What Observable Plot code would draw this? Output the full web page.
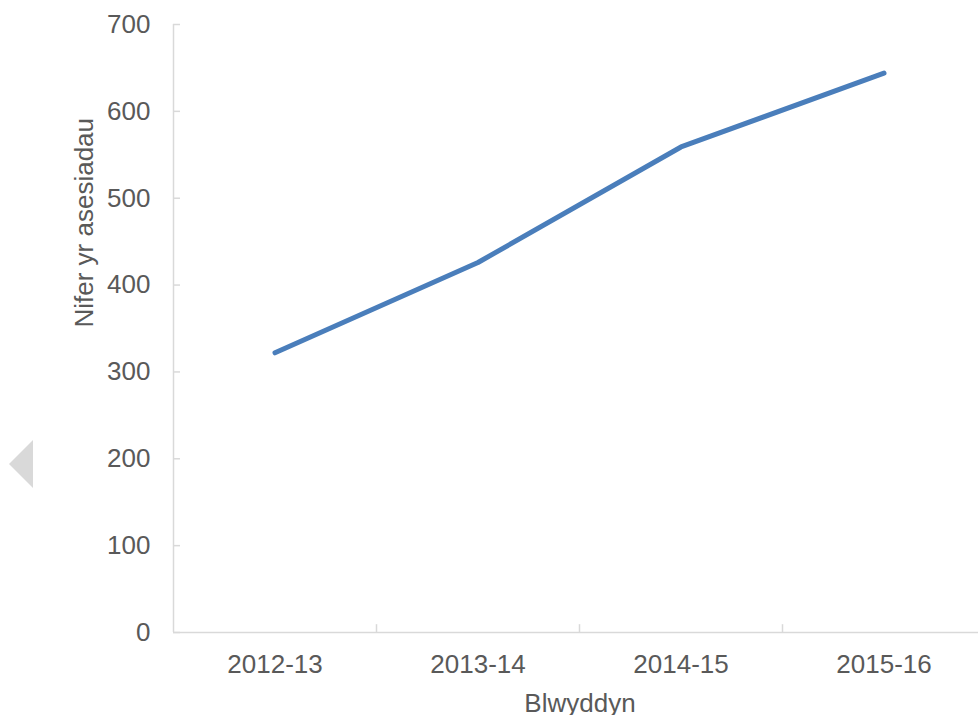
<!DOCTYPE html>
<html>
<head>
<meta charset="utf-8">
<script src="https://cdn.jsdelivr.net/npm/d3@7"></script>
<script src="https://cdn.jsdelivr.net/npm/@observablehq/plot@0.6"></script>
<style>
  html, body { margin: 0; padding: 0; background: #fff; }
  #wrap { position: relative; width: 978px; height: 715px; overflow: hidden; }
  #arrow { position: absolute; left: 9px; top: 440px; width: 0; height: 0;
           border-top: 24px solid transparent; border-bottom: 24px solid transparent;
           border-right: 24px solid #d9d9d9; }
  svg { display: block; }
</style>
</head>
<body>
<div id="wrap"><div id="chart"></div><div id="arrow"></div></div>
<script>
const years = ["2012-13", "2013-14", "2014-15", "2015-16"];
const assessments = [322, 426, 559, 644];
const yTicks = [0, 100, 200, 300, 400, 500, 600, 700];
const xTitle = "Blwyddyn";
const yTitle = "Nifer yr asesiadau";

const data = years.map((y, i) => ({year: y, value: assessments[i]}));

const W = 978, H = 715;
const mL = 173, mR = 0, mT = 24, mB = 83;
const xRange = [173, 985];
const step = (xRange[1] - xRange[0]) / years.length;
const axisColor = "#d9d9d9";
const textColor = "#595959";
const font = "'Liberation Sans', Arial, sans-serif";

const plot = Plot.plot({
  width: W,
  height: H,
  marginLeft: mL,
  marginRight: mR,
  marginTop: mT,
  marginBottom: mB,
  style: {fontFamily: font, fontSize: "26px", color: textColor, background: "#fff", overflow: "visible"},
  x: {type: "band", domain: years, range: xRange, padding: 0},
  y: {domain: [0, 700]},
  marks: [
    // axis lines
    Plot.ruleX([years[0]], {x: d => d, dx: -step / 2, y1: 0, y2: 700, stroke: axisColor, strokeWidth: 1.5}),
    Plot.ruleY([0], {stroke: axisColor, strokeWidth: 1.5}),
    // y ticks (inward)
    Plot.tickY(yTicks, {y: d => d, stroke: axisColor, strokeWidth: 1.5, insetRight: (W - mL - mR) - 7}),
    // x ticks between categories (upward)
    Plot.ruleX(years.slice(1), {x: d => d, dx: -step / 2, y1: 0, y2: 9, stroke: axisColor, strokeWidth: 1.5}),
    Plot.axisY({ticks: yTicks, tickSize: 0, tickPadding: 23, label: null, fill: textColor, fontSize: 26}),
    Plot.axisX({tickSize: 0, tickPadding: 22, label: null, fill: textColor, fontSize: 26}),
    Plot.text([xTitle], {frameAnchor: "bottom", dy: 79, dx: 4, lineAnchor: "bottom", fill: textColor, fontSize: 26}),
    Plot.text([yTitle], {frameAnchor: "left", dx: -81, dy: -1, rotate: -90, lineAnchor: "bottom", fill: textColor, fontSize: 26}),
    Plot.line(data, {x: "year", y: "value", stroke: "#4a7ebb", strokeWidth: 5, strokeLinecap: "round", strokeLinejoin: "round"})
  ]
});
document.getElementById("chart").appendChild(plot);
</script>
</body>
</html>
